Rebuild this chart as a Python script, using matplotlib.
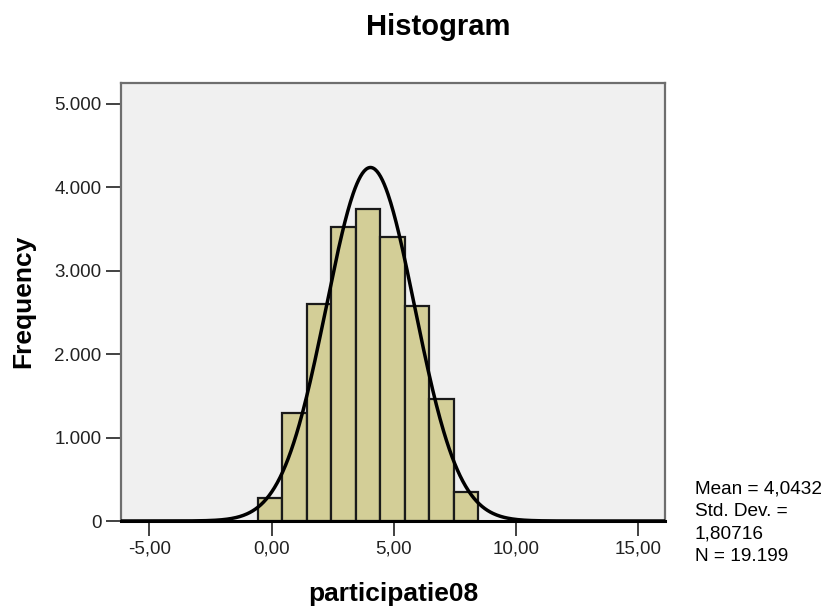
import numpy as np
import matplotlib
matplotlib.use("Agg")
import matplotlib.pyplot as plt
from matplotlib.ticker import FuncFormatter

plt.rcParams['font.family'] = ['Liberation Sans', 'DejaVu Sans']

# histogram bins (left edges) and counts
bin_left = [-0.56, 0.44, 1.44, 2.44, 3.44, 4.44, 5.44, 6.44, 7.44]
bin_width = 1.0
counts = [272, 1299, 2598, 3522, 3741, 3409, 2578, 1459, 351]

# summary stats shown next to the chart
mean = 4.0432
std = 1.80716
n = 19199

x_ticks = [-5, 0, 5, 10, 15]
y_ticks = [0, 1000, 2000, 3000, 4000, 5000]

fig = plt.figure(figsize=(8.24, 6.08), dpi=100)
ax = fig.add_axes([121/824, 1 - 521/608, (665 - 121)/824, (521 - 82.7)/608])
ax.set_facecolor('#F0F0F0')

ax.bar(bin_left, counts, width=bin_width, align='edge',
       color='#D3CE97', edgecolor='#1a1a1a', linewidth=1.6, zorder=2)

# normal curve from the stated mean / sd / N
xs = np.linspace(-6.2, 16.2, 600)
pdf = np.exp(-0.5*((xs - mean)/std)**2) / (std*np.sqrt(2*np.pi))
ax.plot(xs, n*bin_width*pdf, color='black', lw=2.5, zorder=3)

ax.set_xlim(-6.16, 16.09)
ax.set_ylim(0, 5255)
ax.set_xticks(x_ticks)
ax.set_yticks(y_ticks)
ax.xaxis.set_major_formatter(FuncFormatter(lambda v, p: ('%.2f' % v).replace('.', ',')))
ax.yaxis.set_major_formatter(FuncFormatter(lambda v, p: '{:,.0f}'.format(v).replace(',', '.')))
ax.tick_params(axis='both', direction='out', length=11, width=1.3, labelsize=13.5,
               color='#333333', labelcolor='#222222', pad=3)

for s in ['top', 'right', 'left']:
    ax.spines[s].set_color('#6e6e6e')
    ax.spines[s].set_linewidth(1.6)
ax.spines['bottom'].set_color('black')
ax.spines['bottom'].set_linewidth(2.2)

fig.text(438/824, 1 - 27/608, 'Histogram', fontsize=21, fontweight='bold',
         ha='center', va='center')
ax.set_xlabel('participatie08', fontsize=19, fontweight='bold', labelpad=18)
ax.set_ylabel('Frequency', fontsize=19, fontweight='bold', labelpad=14)

stats = 'Mean = %s\nStd. Dev. =\n%s\nN = %s' % (
    ('%.4f' % mean).replace('.', ','),
    ('%.5f' % std).replace('.', ','),
    '{:,}'.format(n).replace(',', '.'))
fig.text(695/824, 1 - 523/608, stats, fontsize=13.7, ha='left', va='center',
         linespacing=1.42)

fig.savefig('out.png', dpi=100)
